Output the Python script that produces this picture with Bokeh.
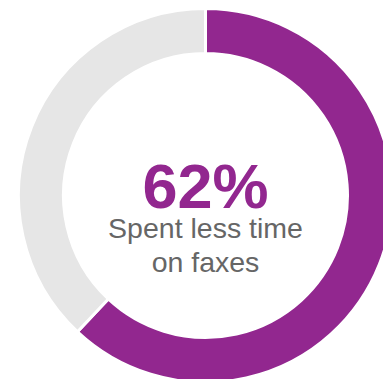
import math
from bokeh.plotting import figure
from bokeh.models import Range1d, ColumnDataSource
from bokeh.core.properties import value
from bokeh.embed import file_html
from bokeh.resources import INLINE

categories = ["Spent less time on faxes", "Other"]
shares = [62, 38]
colors = ["#92278F", "#E6E6E6"]
headline = "62%"
caption_lines = ["Spent less time", "on faxes"]

W, H = 383, 379
p = figure(width=W, height=H, output_backend="svg", toolbar_location=None,
           x_range=Range1d(0, W), y_range=Range1d(0, H), min_border=0)
p.axis.visible = False
p.grid.visible = False
p.outline_line_color = None
p.background_fill_color = "white"
p.border_fill_color = "white"

total = sum(shares)
starts, ends = [], []
a = math.pi / 2
for s in shares:
    starts.append(a)
    a = a - s / total * 2 * math.pi
    ends.append(a)

cx, cy = 205, H - 195
src = ColumnDataSource(dict(cat=categories, start=starts, end=ends, color=colors,
                            x=[cx] * len(shares), y=[cy] * len(shares)))
p.annular_wedge(x="x", y="y", inner_radius=142, outer_radius=187,
                start_angle="start", end_angle="end", direction="clock",
                fill_color="color", line_color="white", line_width=3,
                inner_radius_units="screen", outer_radius_units="screen",
                source=src)

p.text(x=[cx], y=[H - 185], text=[headline], text_align="center",
       text_baseline="alphabetic", text_font=value("Liberation Sans"),
       text_font_style="bold", text_font_size="63px", text_color="#92278F")
p.text(x=[cx, cx], y=[H - 227, H - 261], text=caption_lines, text_align="center",
       text_baseline="alphabetic", text_font=value("Liberation Sans"),
       text_font_size="28.5px", text_color="#666666")

open("out.html", "w").write(file_html(p, INLINE))
